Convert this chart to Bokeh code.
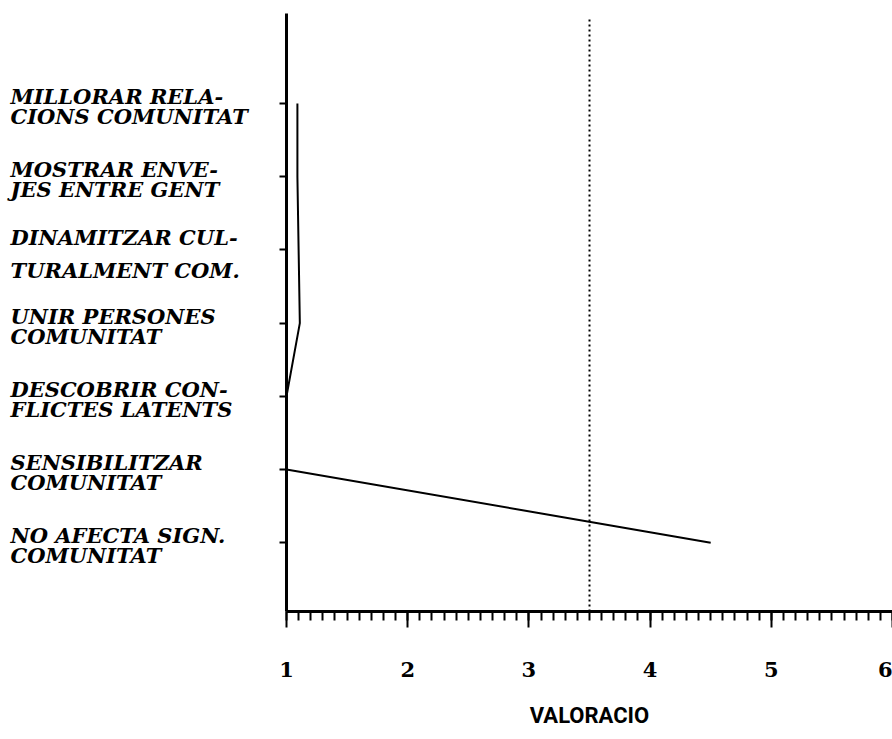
from bokeh.plotting import figure
from bokeh.layouts import row
from bokeh.models import Range1d, FixedTicker, SingleIntervalTicker, ColumnDataSource
from bokeh.core.properties import value
from bokeh.embed import file_html
from bokeh.resources import INLINE

# Data (bottom to top)
categories = [
    "NO AFECTA SIGN.\nCOMUNITAT",
    "SENSIBILITZAR\nCOMUNITAT",
    "DESCOBRIR CON-\nFLICTES LATENTS",
    "UNIR PERSONES\nCOMUNITAT",
    "DINAMITZAR CUL-\nTURALMENT COM.",
    "MOSTRAR ENVE-\nJES ENTRE GENT",
    "MILLORAR RELA-\nCIONS COMUNITAT",
]
values = [4.5, 1.0, 1.0, 1.11, 1.10, 1.09, 1.09]
mean_value = 3.5
x_ticks = [1, 2, 3, 4, 5, 6]
x_title = "VALORACIO"

positions = list(range(1, len(categories) + 1))

H = 737
TOP = 13
BOTTOM = 126
y_range = Range1d(0.06, 8.23)

# ---- main chart ----
p = figure(width=614, height=H, output_backend="svg", toolbar_location=None,
           x_range=Range1d(x_ticks[0], x_ticks[-1]), y_range=y_range,
           min_border_left=8, min_border_right=0, min_border_top=TOP,
           min_border_bottom=BOTTOM)
p.outline_line_color = None
p.grid.visible = False

p.line(values, positions, line_color="black", line_width=2)
p.line([mean_value, mean_value], [0.06, 8.16], line_color="black",
       line_width=2, line_dash="2 3")

xa = p.xaxis[0]
xa.ticker = SingleIntervalTicker(interval=1, num_minor_ticks=10)
xa.axis_line_width = 3
xa.axis_line_color = "black"
xa.major_tick_in = 0
xa.major_tick_out = 16
xa.major_tick_line_width = 2
xa.minor_tick_in = 0
xa.minor_tick_out = 9
xa.minor_tick_line_width = 2
xa.major_label_text_font = "DejaVu Serif"
xa.major_label_text_font_style = "bold"
xa.major_label_text_font_size = "21px"
xa.major_label_text_color = "black"
xa.major_label_standoff = 34
xa.axis_label = x_title
xa.axis_label_text_font = "Roboto"
xa.axis_label_text_font_style = "bold"
xa.axis_label_text_font_size = "22px"
xa.axis_label_text_color = "black"
xa.axis_label_standoff = 23

ya = p.yaxis[0]
ya.ticker = FixedTicker(ticks=positions)
ya.axis_line_width = 3
ya.axis_line_color = "black"
ya.major_tick_in = 0
ya.major_tick_out = 7
ya.major_tick_line_width = 2
ya.minor_tick_line_color = None
ya.major_label_text_font_size = "0px"
ya.major_label_text_color = None
ya.major_label_standoff = 0

# ---- category labels panel (shares the y scale) ----
lab = figure(width=278, height=H, output_backend="svg", toolbar_location=None,
             x_range=Range1d(0, 1), y_range=y_range,
             x_axis_location=None, y_axis_location=None,
             min_border_left=0, min_border_right=0, min_border_top=TOP,
             min_border_bottom=BOTTOM)
lab.outline_line_color = None
lab.grid.visible = False

first_lines, second_lines, ys, off1, off2 = [], [], [], [], []
for pos, cat in zip(positions, categories):
    a, b = cat.split("\n")
    first_lines.append(a)
    second_lines.append(b)
    ys.append(pos)
    wide = cat.startswith("DINAMITZAR")
    off1.append(-12 if wide else -7)
    off2.append(21 if wide else 13)

src1 = ColumnDataSource(dict(x=[0] * len(ys), y=ys, text=first_lines, off=off1))
src2 = ColumnDataSource(dict(x=[0] * len(ys), y=ys, text=second_lines, off=off2))
for src in (src1, src2):
    lab.text(x="x", y="y", text="text", y_offset="off", x_offset=10, source=src,
             text_font=value("DejaVu Serif"), text_font_style="bold italic",
             text_font_size="21px", text_align="left", text_baseline="middle",
             text_color="black")

layout = row(lab, p)
open("out.html", "w").write(file_html(layout, INLINE))
